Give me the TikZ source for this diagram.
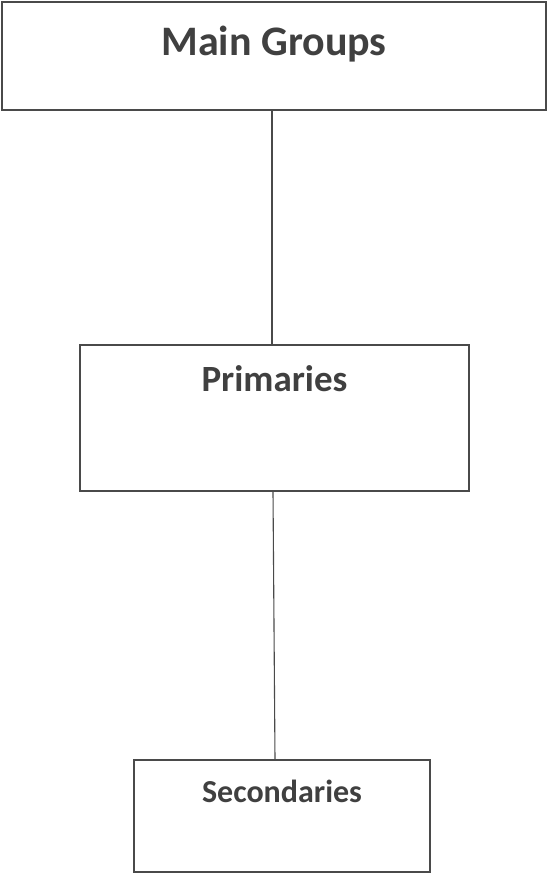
\documentclass[tikz,border=0pt]{standalone}
\usepackage{fontspec}
\setmainfont{Carlito}
\usepackage{xcolor}
\usetikzlibrary{positioning}
\definecolor{ink}{HTML}{404040}
\definecolor{rule}{HTML}{4A4A4A}

\begin{document}
\begin{tikzpicture}[
  x=1pt, y=-1pt,
  grpbox/.style={draw=rule, line width=1.3pt, fill=white, inner sep=0pt},
  grptext/.style={text=ink, anchor=base, inner sep=0pt, font=\bfseries},
  link/.style={draw=rule, line width=1.1pt}
]
\useasboundingbox (0,0) rectangle (548,873);
\node[grpbox, minimum width=544pt, minimum height=108pt] (main) at (274,56) {};
\node[grpbox, minimum width=389pt, minimum height=146pt] (prim) at (274.5,418) {};
\node[grpbox, minimum width=296pt, minimum height=112pt] (sec) at (282,816) {};
\node[grptext, font=\fontsize{42}{48}\bfseries] (maintext) at ([yshift=-54pt]main.north) {Main Groups};
\node[grptext, font=\fontsize{37}{42}\bfseries] (primtext) at ([yshift=-47pt]prim.north) {Primaries};
\node[grptext, font=\fontsize{32}{38}\bfseries] (sectext) at ([yshift=-43pt]sec.north) {Secondaries};
\draw[link] ([xshift=-2pt]main.south) -- ([xshift=-2.5pt]prim.north);
\draw[link] ([xshift=-1.5pt]prim.south) -- ([xshift=-7pt]sec.north);
\end{tikzpicture}
\end{document}
